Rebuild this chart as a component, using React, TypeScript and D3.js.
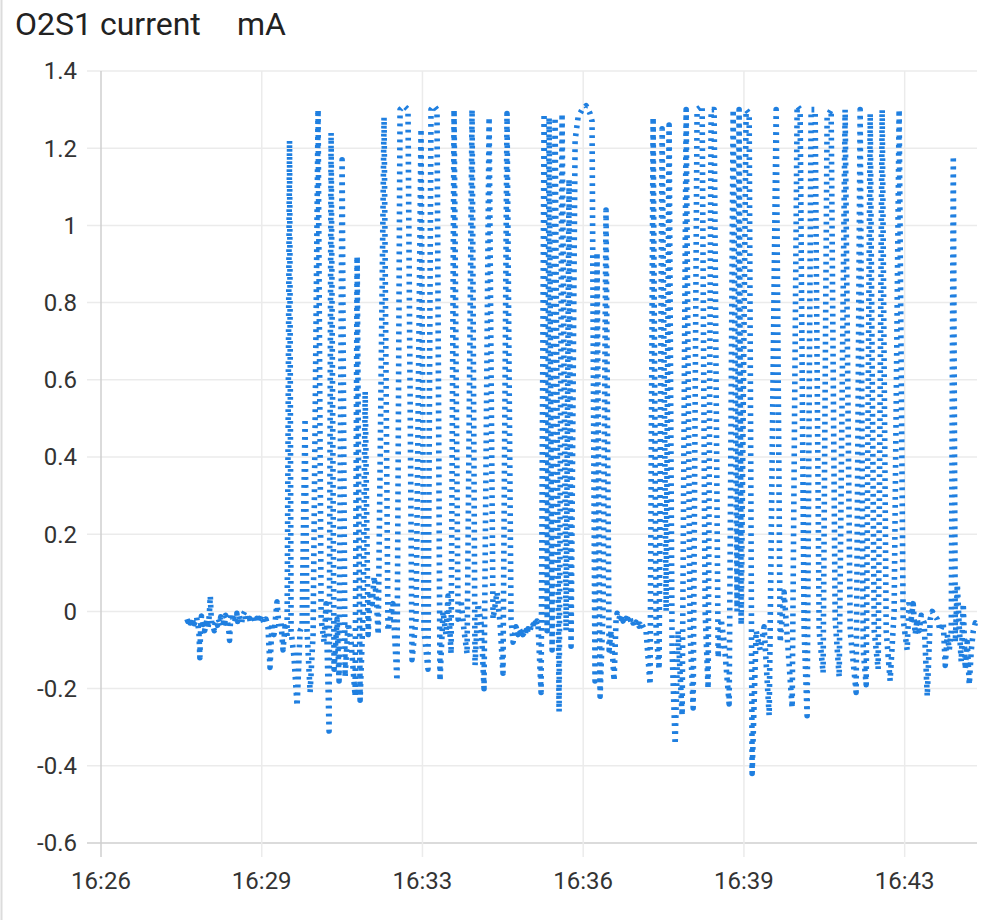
import React from "react";
import * as d3 from "d3";

// Time is stored as seconds after 16:26:00
const X_DOMAIN_SEC: [number, number] = [20, 1110];
const X_TICK_SEC = [20, 220, 420, 620, 820, 1020];
const Y_TICKS = [-0.6, -0.4, -0.2, 0, 0.2, 0.4, 0.6, 0.8, 1, 1.2, 1.4];
const TITLE = "O2S1 current";
const UNIT = "mA";

// quiet start
const zoneA: [number, number][] = [
  [127, -0.02], [128, -0.026], [130, -0.018], [131, -0.03], [132, -0.022], [134, -0.028],
  [135, -0.02], [136, -0.032], [138, -0.024], [139, -0.015], [140, -0.03], [141, -0.04],
  [142, -0.06], [143, -0.12], [144, -0.04], [145, -0.012], [147, -0.034], [148, -0.024],
  [149, -0.05], [151, -0.03], [152, -0.02], [153, -0.045], [154, -0.03], [155, 0.0],
  [156, 0.04], [157, -0.01], [158, -0.035], [160, -0.042], [161, -0.05], [162, -0.03],
  [164, -0.024], [165, -0.036], [166, -0.02], [168, -0.03], [169, -0.014], [170, -0.026],
  [172, -0.04], [173, -0.02], [174, -0.03], [175, -0.01], [177, -0.02], [178, -0.036],
  [179, -0.05], [180, -0.075], [181, -0.03], [182, -0.005], [184, -0.02], [185, -0.01],
  [186, -0.03], [188, -0.014], [189, -0.005], [190, -0.026], [192, -0.01], [193, -0.02],
  [195, -0.03], [196, -0.015], [197, -0.008], [199, 0.0], [200, -0.02], [202, -0.01],
  [203, -0.025], [205, -0.018], [206, -0.03], [208, -0.01], [209, -0.016], [211, -0.022],
  [212, -0.028], [214, -0.018], [215, -0.03], [217, -0.014], [218, -0.022], [220, -0.01],
  [221, -0.02], [223, -0.03], [224, -0.024],
];

// onset
const zoneB: [number, number][] = [
  [225.3, -0.02], [227.8, -0.04], [230.3, -0.145], [232.8, -0.03], [235.3, -0.06],
  [239.0, 0.025], [241.5, -0.04], [244.0, -0.03], [246.5, -0.1], [249.0, -0.04],
  [251.5, -0.07], [254.6, 1.22], [256.5, -0.05], [260.2, -0.12], [264.0, -0.245],
  [267.7, -0.05], [270.2, -0.04], [273.9, 0.5], [276.4, -0.05], [280.2, -0.21],
  [283.9, -0.06], [290.1, 1.3], [293.9, -0.02], [297.6, -0.08], [300.1, 0.02],
  [303.8, -0.31], [306.3, 1.24], [310.0, -0.15], [313.8, -0.02], [316.2, -0.18],
  [320.0, 1.17], [323.7, -0.17], [327.5, -0.03], [331.2, -0.08], [336.2, -0.22],
  [338.7, 0.92], [342.4, -0.23], [346.2, 0.0], [348.7, 0.57], [352.4, -0.06],
  [354.9, 0.05], [357.4, 0.02], [359.9, 0.09], [362.4, 0.04], [364.9, -0.06],
];

// first dense block
const zoneC: [number, number][] = [
  [372.2, 1.28], [377.1, -0.05], [383.3, 0.02], [388.3, -0.18], [392.1, 1.3],
  [397.1, 1.31], [402.0, 1.3], [407.0, -0.125], [412.0, -0.02], [418.2, 1.25],
  [421.9, -0.05], [426.9, -0.15], [430.6, 1.3], [434.4, 1.31], [438.1, 1.3],
  [441.8, -0.18], [445.6, 0.0], [449.3, -0.06], [451.8, 0.04], [455.6, -0.11],
  [459.3, 1.3], [464.3, -0.02], [468.0, 0.03], [471.7, -0.05], [475.5, -0.11],
  [481.7, 1.3], [485.4, -0.14], [489.2, 0.02], [492.9, -0.03], [496.6, -0.2],
  [502.9, 1.28], [507.8, -0.02], [512.8, 0.05], [516.5, -0.03], [520.2, -0.16],
  [525.2, 1.29], [530.2, -0.02], [532.7, -0.08], [536.4, -0.04],
  [538.9, -0.06], [540.1, -0.045], [541.4, -0.05], [542.6, -0.065], [543.9, -0.05],
  [545.1, -0.06], [546.3, -0.055], [547.6, -0.062], [548.8, -0.05], [550.1, -0.058],
  [551.3, -0.045], [552.6, -0.052], [553.8, -0.05], [555.0, -0.04], [556.3, -0.045],
  [557.5, -0.035], [558.8, -0.042], [560.0, -0.03], [561.3, -0.04], [562.5, -0.025],
  [563.7, -0.03],
];

// second dense block
const zoneD: [number, number][] = [
  [567.6, -0.21], [571.3, 1.29], [575.1, -0.05], [577.6, 1.28], [581.3, -0.1],
  [585.0, 1.28], [590.0, -0.26], [593.7, 1.29], [598.7, -0.05], [602.4, 1.12],
  [604.9, -0.09], [609.9, 1.22], [613.6, 1.28], [618.6, 1.3], [623.6, 1.31],
  [628.5, 1.29], [631.0, 1.27], [634.7, -0.18], [637.2, 0.93], [641.0, -0.22],
  [644.7, 0.0], [648.4, 1.04], [652.2, -0.1], [654.7, -0.05], [658.4, -0.18],
  [660.9, -0.02],
  [662.2, -0.005], [663.4, -0.01], [664.7, -0.02], [665.9, -0.008], [667.1, -0.018],
  [668.4, -0.012], [669.6, -0.025], [670.9, -0.015], [672.1, -0.022], [673.4, -0.018],
  [674.6, -0.03], [675.8, -0.02], [677.1, -0.026], [678.3, -0.018], [679.6, -0.028],
  [680.8, -0.022], [682.1, -0.03], [683.3, -0.025], [684.5, -0.032], [685.8, -0.028],
  [687.0, -0.035], [688.3, -0.03], [689.5, -0.038], [690.8, -0.033], [692.0, -0.04],
  [693.2, -0.035], [694.5, -0.04], [695.7, -0.045], [698.2, -0.05],
];

// long dense block
const zoneE: [number, number][] = [
  [703.2, -0.19], [707.0, 1.28], [710.7, -0.05], [714.4, -0.15], [718.2, 1.25],
  [723.2, 0.0], [726.9, 1.26], [730.6, -0.1], [734.4, -0.345], [738.1, -0.05],
  [743.1, -0.27], [748.1, 1.3], [753.0, -0.05], [756.8, -0.25], [761.7, 1.3],
  [768.0, 1.31], [771.7, 0.0], [775.4, -0.2], [779.2, 1.3], [782.9, 1.3],
  [787.9, -0.12], [791.6, -0.02], [795.4, -0.08], [801.6, -0.24], [806.6, 1.3],
  [811.5, 0.0], [814.0, 1.3], [816.5, -0.035], [822.7, 1.3], [826.5, 1.29],
  [830.2, -0.42], [835.2, -0.05], [840.2, -0.1], [845.1, -0.04], [851.4, -0.27],
  [860.1, 1.3], [865.1, -0.08], [870.0, 0.05], [875.0, -0.1], [880.0, -0.25],
  [886.2, 1.31], [889.9, 1.3], [894.9, -0.05], [898.6, -0.27], [903.6, 1.3],
  [908.6, 1.3], [913.6, -0.05], [918.5, -0.16], [923.5, 1.28], [928.5, 1.3],
  [933.5, -0.02], [938.5, -0.17], [945.9, 1.3], [952.2, -0.05], [959.6, -0.21],
  [964.6, 1.3], [968.4, -0.1], [972.1, -0.19], [977.1, 1.29], [982.1, -0.05],
  [987.0, -0.15], [992.0, 1.3], [997.0, -0.05], [1001.9, -0.18], [1006.9, 0.0],
  [1013.1, 1.3], [1018.1, -0.02], [1023.1, -0.1],
];

// tail
const zoneF: [number, number][] = [
  [1025.6, 0.03], [1028.1, -0.02], [1030.6, 0.02], [1033.1, -0.06], [1035.6, -0.02],
  [1038.1, -0.05], [1040.6, -0.01], [1044.3, -0.03], [1048.1, -0.22], [1051.8, -0.02],
  [1054.3, 0.0], [1056.8, -0.01], [1060.5, -0.02], [1064.2, -0.05], [1068.0, -0.03],
  [1070.5, -0.14], [1073.0, -0.06], [1075.5, -0.1], [1078.0, -0.05], [1080.5, 1.18],
  [1083.0, -0.08], [1085.5, 0.07], [1087.9, -0.04], [1090.4, -0.13], [1092.9, 0.02],
  [1095.4, -0.15], [1097.9, -0.08], [1100.4, -0.19], [1102.9, -0.1], [1105.4, -0.05],
  [1107.9, -0.03], [1110.4, -0.035],
];

const BASE = new Date(2024, 0, 1, 16, 26, 0).getTime();
const toDate = (s: number) => new Date(BASE + s * 1000);

const W = 1000;
const H = 920;
const M = { left: 101, right: 977, top: 71, bottom: 843 };

export default function App() {
  const data = [...zoneA, ...zoneB, ...zoneC, ...zoneD, ...zoneE, ...zoneF];
  const x = d3
    .scaleTime()
    .domain(X_DOMAIN_SEC.map(toDate) as [Date, Date])
    .range([M.left, M.right]);
  const y = d3.scaleLinear().domain([-0.6, 1.4]).range([M.bottom, M.top]);
  const line = d3
    .line<[number, number]>()
    .x((d) => x(toDate(d[0])))
    .y((d) => y(d[1]));
  const fmt = d3.timeFormat("%H:%M");
  const font = "Roboto, 'Noto Sans', sans-serif";

  return (
    <div style={{ position: "absolute", left: 0, top: 0 }}>
      <svg width={W} height={H} style={{ display: "block", background: "#fff" }}>
        <line x1={1.5} x2={1.5} y1={0} y2={H} stroke="#dcdcdc" strokeWidth={2} />
        <text x={15} y={35} fontFamily={font} fontSize={32} fill="#222">
          {TITLE}
        </text>
        <text x={237} y={35} fontFamily={font} fontSize={32} fill="#222">
          {UNIT}
        </text>
        {Y_TICKS.map((t) => (
          <g key={"y" + t}>
            <line
              x1={87}
              x2={M.right}
              y1={y(t)}
              y2={y(t)}
              stroke={t === -0.6 ? "#cfcfcf" : "#ebebeb"}
              strokeWidth={1.5}
            />
            <text
              x={77}
              y={y(t)}
              dy="0.35em"
              textAnchor="end"
              fontFamily={font}
              fontSize={24}
              fill="#333"
            >
              {String(+t.toFixed(1))}
            </text>
          </g>
        ))}
        {X_TICK_SEC.map((s) => (
          <g key={"x" + s}>
            <line
              x1={x(toDate(s))}
              x2={x(toDate(s))}
              y1={M.top}
              y2={857}
              stroke={s === X_TICK_SEC[0] ? "#cfcfcf" : "#ebebeb"}
              strokeWidth={1.5}
            />
            <text
              x={x(toDate(s))}
              y={889}
              textAnchor="middle"
              fontFamily={font}
              fontSize={24}
              fill="#333"
            >
              {fmt(toDate(s))}
            </text>
          </g>
        ))}
        <path
          d={line(data) || ""}
          fill="none"
          stroke="#1f7fe0"
          strokeWidth={5.6}
          strokeDasharray="2.8 5.2"
          strokeLinejoin="round"
        />
      </svg>
    </div>
  );
}
